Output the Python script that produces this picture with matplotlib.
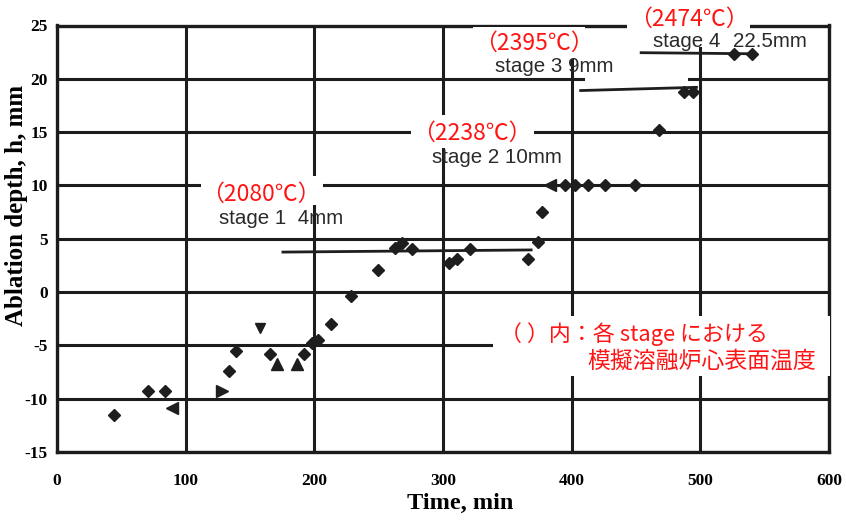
import matplotlib
matplotlib.use("Agg")
import matplotlib.pyplot as plt
from matplotlib.patches import Rectangle

# ---- data ----
diamond_t = [44.5, 71, 84, 133.7, 139, 165.5, 192, 198, 202.5, 212.7, 228.2, 249.7,
             263, 268, 276, 305, 310.5, 321, 366, 373.5, 377, 395, 402.5, 413, 426, 449,
             468, 487, 494.5, 526, 540]
diamond_h = [-11.5, -9.3, -9.3, -7.4, -5.5, -5.8, -5.8, -4.8, -4.5, -3.0, -0.4, 2.1,
             4.1, 4.6, 4.0, 2.7, 3.1, 4.05, 3.1, 4.7, 7.5, 10.0, 10.0, 10.0, 10.0, 10.0,
             15.2, 18.8, 18.8, 22.3, 22.3]
tri_up_t = [170.7, 186.3]
tri_up_h = [-6.7, -6.7]
tri_down_t = [157.8]
tri_down_h = [-3.4]
tri_left_t = [89, 383]
tri_left_h = [-10.9, 10.0]
tri_right_t = [128]
tri_right_h = [-9.3]

stage1_t = [175.6, 368.5]
stage1_h = [3.75, 3.95]
stage3_t = [407, 497]
stage3_h = [18.9, 19.2]
stage4_t = [454, 540]
stage4_h = [22.45, 22.35]

x_ticks = [0, 100, 200, 300, 400, 500, 600]
y_ticks = [-15, -10, -5, 0, 5, 10, 15, 20, 25]

temp_labels = ["（2080℃）", "（2238℃）", "（2395℃）", "（2474℃）"]
temp_t = [158.5, 322.1, 370.3, 490.8]
temp_h = [9.15, 14.85, 23.35, 25.55]

stage_labels = ["stage 1  4mm", "stage 2 10mm", "stage 3 9mm", "stage 4", "22.5mm"]
stage_t = [125.9, 291.4, 340.4, 463.2, 525.4]
stage_h = [6.9, 12.6, 21.2, 23.5, 23.5]

note_line1 = "（ ）内：各 stage における"
note_line2 = "模擬溶融炉心表面温度"

# white cover panels of the annotation overlay (t0, t1, h0, h1)
covers = [(111.9, 206.7, 8.15, 10.86),
          (275.1, 370.7, 13.48, 16.57),
          (323.3, 410.0, 21.9, 24.9),
          (410.4, 490.4, 19.6, 21.9),
          (443.0, 538.6, 23.03, 26.5),
          (338.8, 601.0, -7.9, -2.25)]

# ---- figure ----
fig = plt.figure(figsize=(8.46, 5.23), dpi=100)
ax = fig.add_axes([57/846, 1-452/523, (829-57)/846, (452-25.5)/523])
ax.set_xlim(0, 600)
ax.set_ylim(-15, 25)
ax.set_xticks(x_ticks)
ax.set_yticks(y_ticks)
serif_bold = dict(family="Liberation Serif", weight="bold")
ax.set_xticklabels([str(v) for v in x_ticks], fontsize=12.5, **serif_bold)
ax.set_yticklabels([str(v) for v in y_ticks], fontsize=12.5, **serif_bold)
ax.tick_params(axis="x", length=0, pad=15)
ax.tick_params(axis="y", length=0, pad=6.5)
ax.grid(True, color="#1c1c1c", linewidth=2.2)
ax.set_axisbelow(True)
for s in ax.spines.values():
    s.set_linewidth(2.4)
    s.set_color("#1c1c1c")
    s.set_zorder(2.6)

for t0, t1, h0, h1 in covers:
    ax.add_patch(Rectangle((t0, h0), t1 - t0, h1 - h0, facecolor="white",
                           edgecolor="none", zorder=3, clip_on=False))

mc = "#1e1e1e"
ax.plot(diamond_t, diamond_h, "D", color=mc, markersize=6.5, zorder=4)
ax.plot(tri_up_t, tri_up_h, "^", color=mc, markersize=8, zorder=4)
ax.plot(tri_down_t, tri_down_h, "v", color=mc, markersize=7, zorder=4)
ax.plot(tri_left_t, tri_left_h, "<", color=mc, markersize=8, zorder=4)
ax.plot(tri_right_t, tri_right_h, ">", color=mc, markersize=8, zorder=4)
for lt, lh in [(stage1_t, stage1_h), (stage3_t, stage3_h), (stage4_t, stage4_h)]:
    ax.plot(lt, lh, "-", color=mc, linewidth=2.0, zorder=4)

ax.set_xlabel("Time, min", fontsize=17.5, **serif_bold)
ax.xaxis.set_label_coords(0.522, -0.097)
ax.set_ylabel("Ablation depth, h, mm", fontsize=18, **serif_bold)
ax.yaxis.set_label_coords(-0.037, 0.579)

cjk = ["Noto Sans CJK JP", "DejaVu Sans"]
for lab, t, h in zip(temp_labels, temp_t, temp_h):
    ax.text(t, h, lab, color="#ff1414", fontsize=16.5, family=cjk, ha="center", va="center",
            zorder=6, clip_on=False)

for lab, t, h in zip(stage_labels, stage_t, stage_h):
    ax.text(t, h, lab, color="#2a2a2a", fontsize=14.8, family="Liberation Sans",
            ha="left", va="center", zorder=7)

ax.text(344.5, -3.95, note_line1, color="#ff1414", fontsize=15.8, family=cjk,
        ha="left", va="center", zorder=6)
ax.text(412.0, -6.45, note_line2, color="#ff1414", fontsize=16.5, family=cjk,
        ha="left", va="center", zorder=6)

fig.savefig("out.png", dpi=100)
